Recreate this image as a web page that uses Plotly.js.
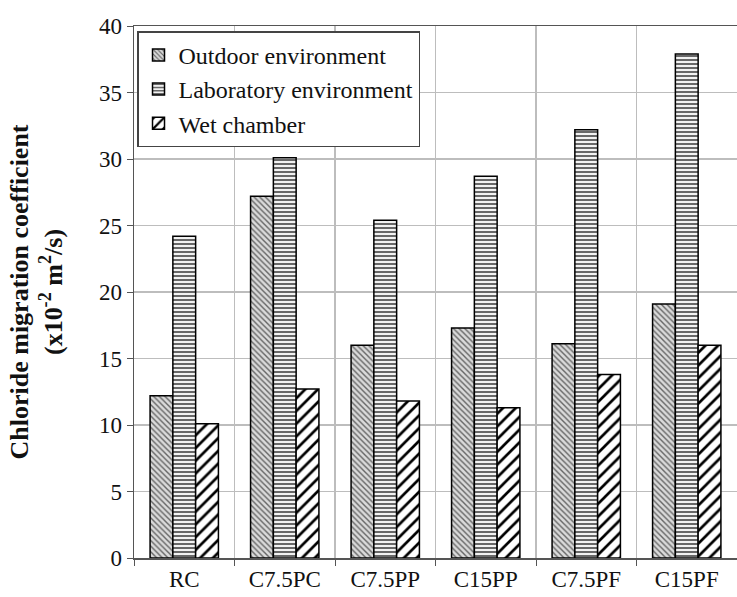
<!DOCTYPE html>
<html>
<head>
<meta charset="utf-8">
<script src="https://cdn.plot.ly/plotly-3.0.1.min.js"></script>
<style>html,body{margin:0;padding:0;background:#fff;}#chart{width:737px;height:597px;}</style>
</head>
<body>
<div id="chart"></div>
<script>
const categories = ["RC", "C7.5PC", "C7.5PP", "C15PP", "C7.5PF", "C15PF"];
const outdoor = [12.2, 27.2, 16.0, 17.3, 16.1, 19.1];
const laboratory = [24.2, 30.1, 25.4, 28.7, 32.2, 37.9];
const wetChamber = [10.1, 12.7, 11.8, 11.3, 13.8, 16.0];
const seriesNames = ["Outdoor environment", "Laboratory environment", "Wet chamber"];
const yTicks = [0, 5, 10, 15, 20, 25, 30, 35, 40];

const serif = "'Liberation Serif', 'Times New Roman', serif";

const traces = [
  {
    type: "bar", name: seriesNames[0], x: categories, y: outdoor,
    marker: {
      color: "#cfcfcf",
      line: {color: "#000", width: 1.5},
      pattern: {shape: "\\", bgcolor: "#dadada", fgcolor: "#666", size: 4, solidity: 0.35, fillmode: "replace"}
    }
  },
  {
    type: "bar", name: seriesNames[1], x: categories, y: laboratory,
    marker: {
      color: "#ffffff",
      line: {color: "#000", width: 1.5},
      pattern: {shape: "-", bgcolor: "#f2f2f2", fgcolor: "#444", size: 4, solidity: 0.4, fillmode: "replace"}
    }
  },
  {
    type: "bar", name: seriesNames[2], x: categories, y: wetChamber,
    marker: {
      color: "#ffffff",
      line: {color: "#000", width: 1.5},
      pattern: {shape: "/", bgcolor: "#ffffff", fgcolor: "#000", size: 9, solidity: 0.3, fillmode: "replace"}
    }
  }
];

const layout = {
  width: 737, height: 597,
  margin: {l: 134, r: 0, t: 26, b: 39},
  paper_bgcolor: "#fff", plot_bgcolor: "#fff",
  barmode: "group", bargap: 0.32, bargroupgap: 0,
  font: {family: serif, color: "#111", size: 22},
  showlegend: true,
  legend: {
    x: 0.005, y: 0.99, xanchor: "left", yanchor: "top",
    bgcolor: "#fff", bordercolor: "#444", borderwidth: 1.5,
    font: {family: serif, size: 24, color: "#111"},
    tracegroupgap: 0, itemwidth: 30
  },
  xaxis: {
    type: "category", tickson: "boundaries",
    showgrid: true, gridcolor: "#bdbdbd", gridwidth: 1.5,
    showline: true, linecolor: "#555", linewidth: 1.5, mirror: true,
    ticks: "outside", ticklen: 6, tickcolor: "#555",
    tickfont: {family: serif, size: 23, color: "#111"},
    automargin: false
  },
  yaxis: {
    range: [0, 40], tickvals: yTicks, ticktext: yTicks.map(String),
    showgrid: true, gridcolor: "#bdbdbd", gridwidth: 1.5,
    showline: true, linecolor: "#555", linewidth: 1.5, mirror: true,
    ticks: "outside", ticklen: 6, tickcolor: "#555",
    tickfont: {family: serif, size: 23, color: "#111"},
    zeroline: false,
    title: {
      text: "<b>Chloride migration coefficient<br>(x10<sup>-2</sup> m<sup>2</sup>/s)</b>",
      font: {family: serif, size: 26, color: "#111"},
      standoff: 29
    },
    automargin: false
  }
};

Plotly.newPlot("chart", traces, layout, {displayModeBar: false, staticPlot: true});
</script>
</body>
</html>
